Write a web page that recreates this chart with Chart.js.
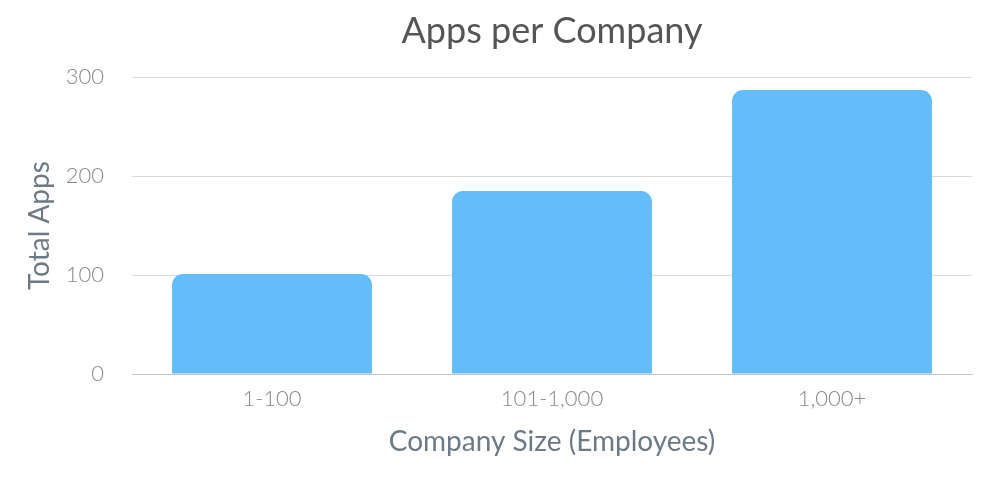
<!DOCTYPE html>
<html>
<head>
<meta charset="utf-8">
<script src="https://cdn.jsdelivr.net/npm/chart.js@4/dist/chart.umd.min.js"></script>
<style>
html,body{margin:0;padding:0;background:#fff;}
#wrap{width:1000px;height:489px;position:relative;}
</style>
</head>
<body>
<div id="wrap"><canvas id="c" width="1000" height="489"></canvas></div>
<script>
const categories = ["1-100", "101-1,000", "1,000+"];
const totalApps = [101, 185, 287];
const yTicks = [0, 100, 200, 300];
const chartTitle = "Apps per Company";
const xTitle = "Company Size (Employees)";
const yTitle = "Total Apps";

new Chart(document.getElementById('c'), {
  type: 'bar',
  data: {
    labels: categories,
    datasets: [{
      data: totalApps,
      backgroundColor: '#64bdf8',
      borderRadius: {topLeft: 11, topRight: 11, bottomLeft: 0, bottomRight: 0},
      borderSkipped: 'bottom',
      barPercentage: 0.714,
      categoryPercentage: 1.0
    }]
  },
  options: {
    responsive: false,
    animation: false,
    devicePixelRatio: 1,
    layout: {padding: {left: 23, right: 28, top: 0, bottom: 16}},
    plugins: {
      legend: {display: false},
      tooltip: {enabled: false},
      title: {display: false}
    },
    scales: {
      x: {
        grid: {display: false, drawTicks: false},
        border: {display: true, color: '#c4c4c4', width: 1},
        ticks: {color: '#888888', font: {family: 'Lato', size: 22, weight: '300'}, padding: 12},
        title: {display: true, text: xTitle, color: '#6d7a86', font: {family: 'Lato', size: 28, weight: '400'}, padding: {top: 1, bottom: 14}}
      },
      xTop: {
        position: 'top',
        grid: {display: false, drawTicks: false},
        border: {display: false},
        ticks: {display: false},
        title: {display: true, text: chartTitle, color: '#555555', font: {family: 'Lato', size: 36, weight: '400'}, padding: {top: 10, bottom: 24}}
      },
      y: {
        min: 0, max: 300,
        afterBuildTicks: (axis) => { axis.ticks = yTicks.map(v => ({value: v})); },
        afterFit: (axis) => { axis.width = 109; },
        grid: {color: '#d9d9d9', drawTicks: false, lineWidth: 1},
        border: {display: false},
        ticks: {color: '#888888', font: {family: 'Lato', size: 22, weight: '300'}, padding: 28},
        title: {display: true, text: yTitle, color: '#6d7a86', font: {family: 'Lato', size: 28, weight: '400'}, padding: {top: 0, bottom: 10}}
      }
    }
  }
});
</script>
</body>
</html>
